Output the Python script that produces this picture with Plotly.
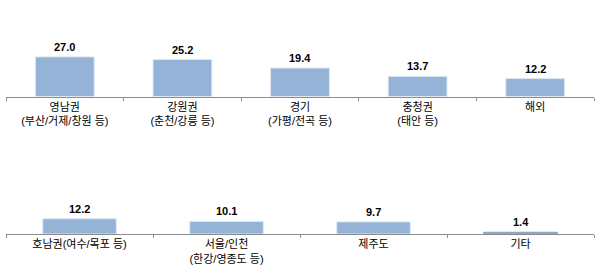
import plotly.graph_objects as go

top_cats = ["영남권<br>(부산/거제/창원 등)", "강원권<br>(춘천/강릉 등)", "경기<br>(가평/전곡 등)", "충청권<br>(태안 등)", "해외"]
top_vals = [27.0, 25.2, 19.4, 13.7, 12.2]
bot_cats = ["호남권(여수/목포 등)", "서울/인천<br>(한강/영종도 등)", "제주도", "기타"]
bot_vals = [12.2, 10.1, 9.7, 1.4]

BAR = "#95b3d7"
EDGE = "#dce6f2"
AX = "#8c8c8c"
KFONT = "Liberation Sans, Noto Sans CJK KR"

fig = go.Figure()
fig.add_trace(go.Bar(x=top_cats, y=top_vals, xaxis="x", yaxis="y",
                     marker=dict(color=BAR, line=dict(color=EDGE, width=1)), hoverinfo="skip"))
fig.add_trace(go.Bar(x=bot_cats, y=bot_vals, xaxis="x2", yaxis="y2",
                     marker=dict(color=BAR, line=dict(color=[EDGE, EDGE, EDGE, "#7f9cc6"], width=1)),
                     hoverinfo="skip"))

ann = []
for c, v in zip(top_cats, top_vals):
    ann.append(dict(x=c, y=v, xref="x", yref="y", text=f"{v:.1f}", showarrow=False,
                    yanchor="bottom", yshift=2,
                    font=dict(family="Liberation Sans", size=11, color="#000000", weight="bold")))
for c, v in zip(bot_cats, bot_vals):
    ann.append(dict(x=c, y=v, xref="x2", yref="y2", text=f"{v:.1f}", showarrow=False,
                    yanchor="bottom", yshift=2,
                    font=dict(family="Liberation Sans", size=11, color="#000000", weight="bold")))

xcommon = dict(showline=True, linecolor=AX, linewidth=1, ticks="outside", ticklen=3,
               tickcolor=AX, tickson="boundaries", showgrid=False, zeroline=False,
               tickfont=dict(family=KFONT, size=11, color="#000000"), fixedrange=True)
ycommon = dict(visible=False, showgrid=False, zeroline=False, fixedrange=True)

fig.update_layout(
    width=600, height=278, margin=dict(l=0, r=0, t=0, b=0),
    paper_bgcolor="white", plot_bgcolor="white", showlegend=False,
    bargap=0.5,
    xaxis=dict(domain=[6/600, 594/600], anchor="y", **xcommon),
    yaxis=dict(domain=[(278-96.5)/278, (278-52.5)/278], range=[0, 30], **ycommon),
    xaxis2=dict(domain=[6/600, 594/600], anchor="y2", **xcommon),
    yaxis2=dict(domain=[(278-234)/278, (278-215.25)/278], range=[0, 15], **ycommon),
    annotations=ann,
)
fig.write_html("out.html")
